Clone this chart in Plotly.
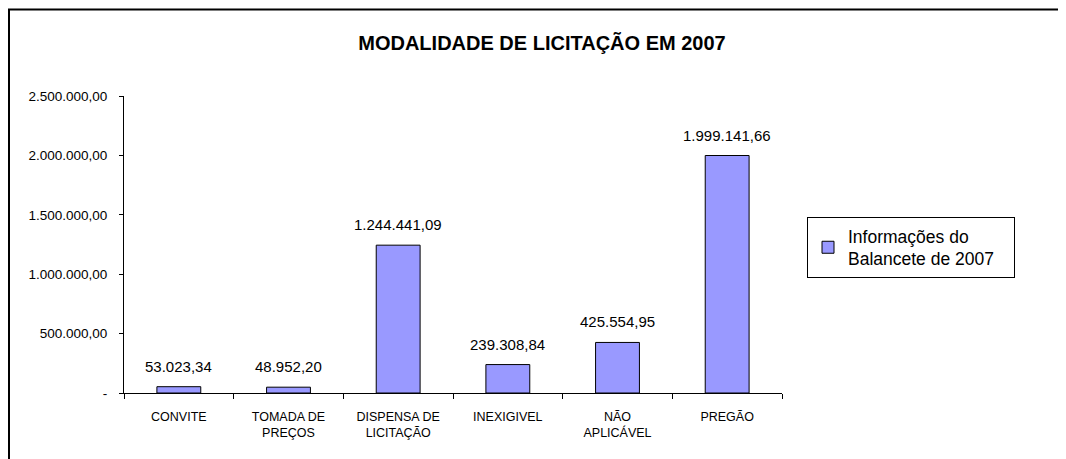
import plotly.graph_objects as go

categories = ["CONVITE", "TOMADA DE<br>PREÇOS", "DISPENSA DE<br>LICITAÇÃO", "INEXIGIVEL", "NÃO<br>APLICÁVEL", "PREGÃO"]
values = [53023.34, 48952.20, 1244441.09, 239308.84, 425554.95, 1999141.66]
value_labels = ["53.023,34", "48.952,20", "1.244.441,09", "239.308,84", "425.554,95", "1.999.141,66"]
series_name = "Informações do<br>Balancete de 2007\u00a0\u00a0\u00a0"
y_tickvals = [0, 500000, 1000000, 1500000, 2000000, 2500000]
y_ticktext = ["-", "500.000,00", "1.000.000,00", "1.500.000,00", "2.000.000,00", "2.500.000,00"]

font_family = "Liberation Sans, Arial, sans-serif"

# page body has an 8px margin, so figure-space positions are offset by 8px
L, R, T, B = 116, 292, 88, 74
W, H = 1066, 459
pw, ph = W - L - R, H - T - B

fig = go.Figure()
fig.add_trace(go.Bar(
    x=categories,
    y=values,
    name=series_name,
    marker=dict(color="#9999FF", line=dict(color="black", width=1)),
    width=0.40,
    showlegend=True,
))

for cat, val, lab in zip(categories, values, value_labels):
    fig.add_annotation(x=cat, y=val, text=lab, showarrow=False,
                       xanchor="center", yanchor="bottom", yshift=10,
                       font=dict(size=15, color="black", family=font_family))

fig.update_layout(
    width=W, height=H,
    paper_bgcolor="white", plot_bgcolor="white",
    margin=dict(l=L, r=R, t=T, b=B),
    font=dict(family=font_family, color="black", size=12),
    title=dict(text="<b>MODALIDADE DE LICITAÇÃO EM 2007</b>",
               x=534 / W, xanchor="center", xref="container",
               y=1 - 35 / H, yref="container",
               yanchor="middle", font=dict(size=20, color="black", family=font_family)),
    showlegend=True,
    legend=dict(
        x=(799 - L) / pw, xanchor="left", y=(H - B - 209) / ph, yanchor="top",
        bordercolor="black", borderwidth=1, bgcolor="white",
        font=dict(size=17.5, color="black", family=font_family),
        itemwidth=30,
    ),
)

fig.update_xaxes(
    showline=True, linecolor="black", linewidth=1,
    ticks="outside", tickson="boundaries", ticklen=5, tickcolor="black",
    tickfont=dict(size=12.5, color="black"),
    showgrid=False, ticklabelstandoff=12,
)
fig.update_yaxes(
    range=[0, 2500000],
    tickmode="array", tickvals=y_tickvals, ticktext=y_ticktext,
    showline=True, linecolor="black", linewidth=1,
    ticks="outside", ticklen=4, tickcolor="black",
    tickfont=dict(size=13.5, color="black"),
    showgrid=False, zeroline=False, ticklabelstandoff=9,
)

# outer chart frame
fig.add_shape(type="rect", xref="paper", yref="paper",
              x0=(1 - L) / pw, x1=2.0, y0=-0.5, y1=(H - B - 1.5) / ph,
              line=dict(color="black", width=2), fillcolor="rgba(0,0,0,0)", layer="below")

fig.write_html("out.html")
